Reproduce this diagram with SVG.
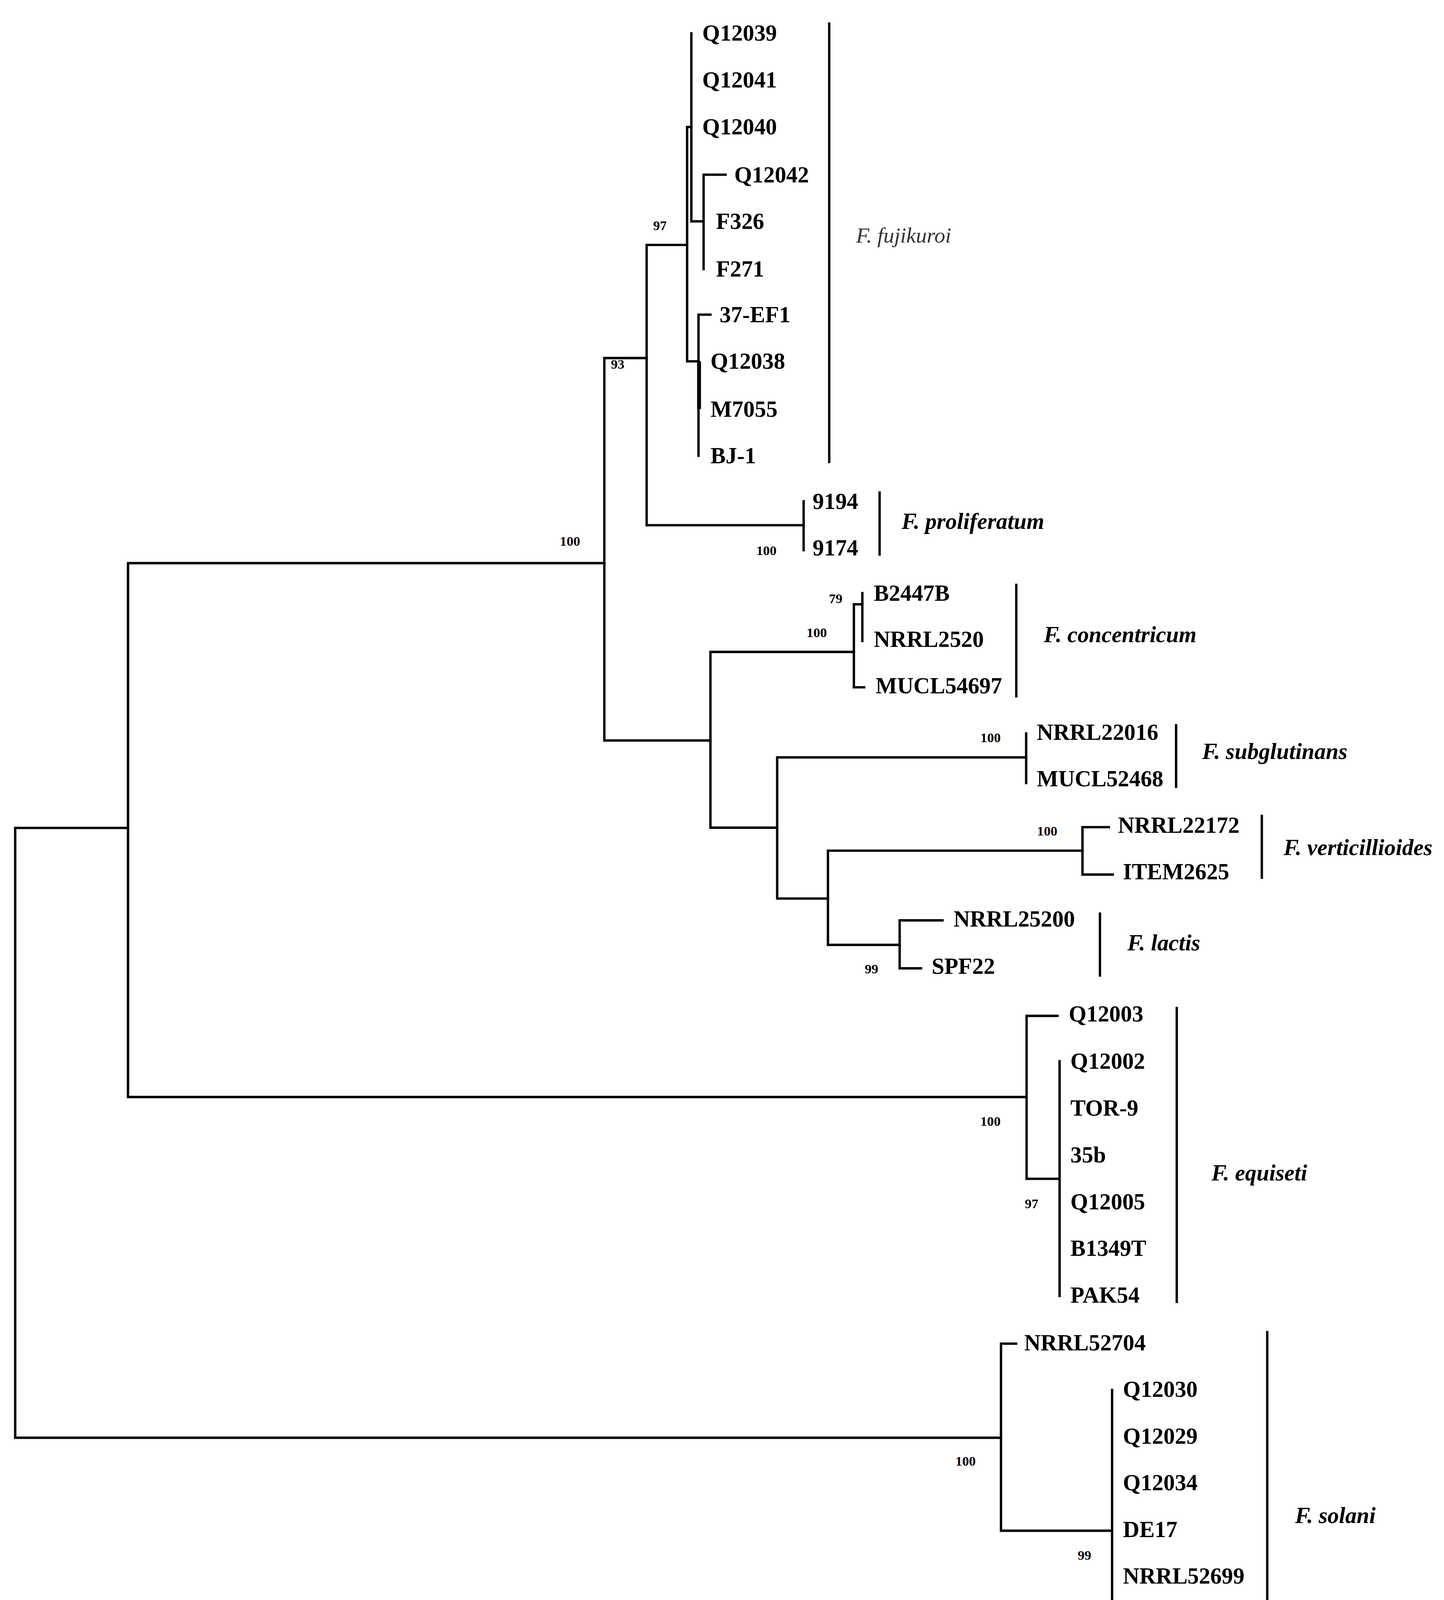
<svg xmlns="http://www.w3.org/2000/svg" width="3697" height="4349" viewBox="0 0 3697 4349">
<style>
.e{stroke:#000;stroke-width:2.2;fill:none;stroke-linecap:square}
.l{font-family:"Liberation Serif",serif;font-weight:bold;font-size:21px;fill:#000}
.b{font-family:"Liberation Serif",serif;font-weight:bold;font-size:12.5px;fill:#000}
.s{font-family:"Liberation Serif",serif;font-weight:bold;font-style:italic;font-size:21px;fill:#000}
.f{font-family:"Liberation Serif",serif;font-style:italic;font-size:20px;fill:#333}
</style>
<rect width="3697" height="4349" fill="#fff"/>
<g transform="scale(2.7778)">
<g id="connectors">
<path class="e" d="M14,763V1325M14,763H118M14,1325H922.6"/>
<path class="e" d="M118,519V1011M118,519H557M118,1011H946"/>
<path class="e" d="M557,330V682.4M557,330H596M557,682.4H654.8"/>
<path class="e" d="M596,225.7V484M596,225.7H633.3M596,484H740.7"/>
<path class="e" d="M633.3,117V333M633.3,117H637.2M633.3,333H643.8"/>
<path class="e" d="M637.2,30.7V204M637.2,204H648.5M648.5,161V248M648.5,161H668.7"/>
<path class="e" d="M643.8,290V420M643.8,290H654.8M643.8,333V377"/>
<rect x="642.5" y="333" width="3.6" height="44" fill="#000"/>
<path class="e" d="M740.7,462V507"/>
<path class="e" d="M654.8,600.8V762.8M654.8,600.8H787M654.8,762.8H716.3"/>
<path class="e" d="M787,556.9V633.4M787,556.9H794.8M787,633.4H796.5M794.8,546.6V590.7"/>
<path class="e" d="M716.3,698V828.1M716.3,698H945.8M716.3,828.1H763.1M945.8,676V721.6"/>
<path class="e" d="M763.1,784V870.8M763.1,784H997.7M763.1,870.8H829.2"/>
<path class="e" d="M997.7,762.3V806M997.7,762.3H1022M997.7,806H1025.6"/>
<path class="e" d="M829.2,848.2V892.4M829.2,848.2H868.7M829.2,892.4H848.9"/>
<path class="e" d="M946.2,936.2V1086.4M946.2,936.2H974.7M946.2,1086.4H976.6M976.6,978V1194.4"/>
<path class="e" d="M922.6,1238.3V1410.7M922.6,1238.3H936.5M922.6,1410.7H1025M1025,1281V1540.1"/>
<path class="e" d="M764.3,21.7V425.7M810.7,454V511M936.7,539V641.7M1084,668.4V725.1M1163,752V808.9M1013.8,842V899M1084.6,929V1199.8M1168,1227.7V1546.6"/>
<path class="e" d="M49,1495H355M49,1487V1503M355,1487V1503"/>
</g>
<g id="fujikuroi">
<text class="l" x="647.3" y="37.5">Q12039</text>
<text class="l" x="647.3" y="80.5">Q12041</text>
<text class="l" x="647.3" y="124">Q12040</text>
<text class="l" x="676.8" y="168">Q12042</text>
<text class="l" x="660" y="211">F326</text>
<text class="l" x="660" y="255">F271</text>
<text class="l" x="663.2" y="297">37-EF1</text>
<text class="l" x="654.8" y="340">Q12038</text>
<text class="l" x="654.8" y="384">M7055</text>
<text class="l" x="654.8" y="427">BJ-1</text>
<text class="f" x="789" y="223.7">F. fujikuroi</text>
<text class="b" x="602" y="212">97</text>
<text class="b" x="563" y="340">93</text>
<text class="b" x="516" y="503">100</text>
</g>
<g id="proliferatum">
<text class="l" x="749" y="469">9194</text>
<text class="l" x="749" y="512">9174</text>
<text class="s" x="831" y="487.5">F. proliferatum</text>
<text class="b" x="697" y="511.5">100</text>
</g>
<g id="concentricum">
<text class="l" x="805.3" y="553.6">B2447B</text>
<text class="l" x="805.3" y="596">NRRL2520</text>
<text class="l" x="807" y="639">MUCL54697</text>
<text class="s" x="962" y="592">F. concentricum</text>
<text class="b" x="764" y="556">79</text>
<text class="b" x="743.4" y="587">100</text>
</g>
<g id="subglutinans">
<text class="l" x="955.6" y="682">NRRL22016</text>
<text class="l" x="955.6" y="724.5">MUCL52468</text>
<text class="s" x="1108" y="699.5">F. subglutinans</text>
<text class="b" x="903.6" y="684">100</text>
</g>
<g id="verticillioides">
<text class="l" x="1030.4" y="767.5">NRRL22172</text>
<text class="l" x="1035" y="810.5">ITEM2625</text>
<text class="s" x="1183" y="788">F. verticillioides</text>
<text class="b" x="955.8" y="770">100</text>
</g>
<g id="lactis">
<text class="l" x="878.8" y="854">NRRL25200</text>
<text class="l" x="858.7" y="897.5">SPF22</text>
<text class="s" x="1039" y="876">F. lactis</text>
<text class="b" x="797" y="897">99</text>
</g>
<g id="equiseti">
<text class="l" x="985" y="941.5">Q12003</text>
<text class="l" x="986.6" y="985">Q12002</text>
<text class="l" x="986.6" y="1028">TOR-9</text>
<text class="l" x="986.6" y="1071.5">35b</text>
<text class="l" x="986.6" y="1114.5">Q12005</text>
<text class="l" x="986.6" y="1157.5">B1349T</text>
<text class="l" x="986.6" y="1200.5">PAK54</text>
<text class="s" x="1116.5" y="1088">F. equiseti</text>
<text class="b" x="903.5" y="1037.5">100</text>
<text class="b" x="944.5" y="1113.5">97</text>
</g>
<g id="solani">
<text class="l" x="944" y="1244.5">NRRL52704</text>
<text class="l" x="1035" y="1287.5">Q12030</text>
<text class="l" x="1035" y="1330.5">Q12029</text>
<text class="l" x="1035" y="1373.5">Q12034</text>
<text class="l" x="1035" y="1416.5">DE17</text>
<text class="l" x="1035" y="1459.5">NRRL52699</text>
<text class="l" x="1035" y="1502.5">N2214</text>
<text class="l" x="1035" y="1546.5">N2211</text>
<text class="s" x="1193.6" y="1403.5">F. solani</text>
<text class="b" x="880.6" y="1350.6">100</text>
<text class="b" x="993.3" y="1437.6">99</text>
</g>
<g id="scale">
<text class="b" x="176" y="1545">0.050</text>
</g>
</g>
</svg>
